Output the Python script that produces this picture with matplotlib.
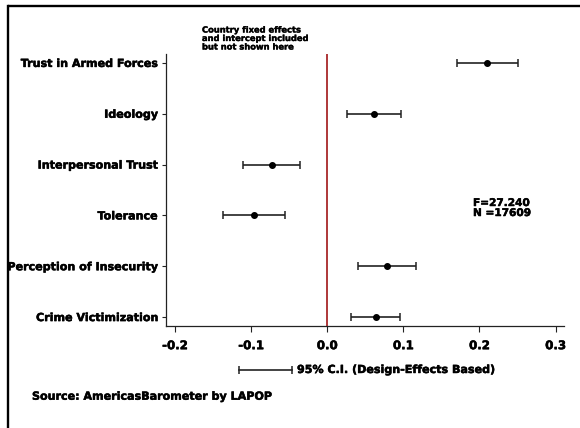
import matplotlib
matplotlib.use("Agg")
import matplotlib.pyplot as plt
from matplotlib.lines import Line2D
import matplotlib.patheffects as pe

labels = ["Crime Victimization", "Perception of Insecurity", "Tolerance",
          "Interpersonal Trust", "Ideology", "Trust in Armed Forces"]
coef = [0.064, 0.079, -0.096, -0.073, 0.061, 0.210]
ci_low = [0.031, 0.041, -0.137, -0.110, 0.026, 0.170]
ci_high = [0.096, 0.117, -0.055, -0.0355, 0.097, 0.250]
xticks = [-0.2, -0.1, 0.0, 0.1, 0.2, 0.3]
xticklabels = ["-0.2", "-0.1", "0.0", "0.1", "0.2", "0.3"]
note_lines = ["Country fixed effects", "and intercept included", "but not shown here"]
stats_lines = ["F=27.240", "N =17609"]
legend_text = "95% C.I. (Design-Effects Based)"
source_text = "Source: AmericasBarometer by LAPOP"

plt.rcParams['font.family'] = ['DejaVu Sans']
plt.rcParams['font.weight'] = 'bold'

heavy = [pe.withStroke(linewidth=0.35, foreground='black')]

W, H = 580, 428
fig = plt.figure(figsize=(W / 100, H / 100), dpi=100, facecolor='white')
ax = fig.add_axes([166 / W, 1 - 325.7 / H, (564 - 166) / W, (325.7 - 54.3) / H])

ypos = list(range(len(labels)))
xerr = [[c - l for c, l in zip(coef, ci_low)], [h - c for c, h in zip(coef, ci_high)]]
ax.axvline(0, color='#a8282a', lw=1.3, zorder=1)
ax.errorbar(coef, ypos, xerr=xerr, fmt='o', color='black', ecolor='#222222',
            elinewidth=1.2, capsize=3.2, capthick=1.1, markersize=4, zorder=3)

ax.set_xlim(-0.2118, 0.311)
ax.set_ylim(-0.17, 5.17)
ax.set_xticks(xticks)
ax.set_xticklabels(xticklabels, fontsize=8.5, fontweight='bold')
ax.set_yticks(ypos)
ax.set_yticklabels(labels, fontsize=8, fontweight='bold')
for lab in ax.get_xticklabels() + ax.get_yticklabels():
    lab.set_path_effects(heavy)
for s in ['top', 'right']:
    ax.spines[s].set_visible(False)
for s in ['left', 'bottom']:
    ax.spines[s].set_linewidth(0.9)
    ax.spines[s].set_color('#222222')
ax.tick_params(axis='x', length=4.2, width=0.8, pad=5.5, colors='#222222', labelcolor='black')
ax.tick_params(axis='y', length=3, width=0.8, pad=3, colors='#222222', labelcolor='black')

# note at top
for t, yy in zip(note_lines, [30, 38.5, 47]):
    fig.text(202 / W, 1 - yy / H, t, fontsize=6, fontweight='bold', ha='left', va='center',
             path_effects=[pe.withStroke(linewidth=0.25, foreground='black')])

# stats
for t, yy in zip(stats_lines, [203, 213]):
    fig.text(473 / W, 1 - yy / H, t, fontsize=7.6, fontweight='bold', ha='left', va='center',
             path_effects=heavy)

# legend
ly = 1 - 370 / H
fig.add_artist(Line2D([239.3 / W, 291.7 / W], [ly, ly], transform=fig.transFigure,
                      color='#222222', lw=1.2))
fig.add_artist(Line2D([239.3 / W, 291.7 / W], [ly, ly], transform=fig.transFigure,
                      color='#222222', lw=0, marker='|', markersize=6.4, markeredgewidth=1.1))
fig.text(297 / W, ly, legend_text, fontsize=8, fontweight='bold', ha='left', va='center',
         path_effects=heavy)

fig.text(32 / W, 1 - 396.7 / H, source_text, fontsize=8, fontweight='bold', ha='left', va='center',
         path_effects=heavy)

# border (top and left)
fig.add_artist(Line2D([7.5 / W, 1], [1 - 5.5 / H, 1 - 5.5 / H], transform=fig.transFigure,
                      color='black', lw=1.7, solid_capstyle='butt'))
fig.add_artist(Line2D([7.5 / W, 7.5 / W], [0, 1 - 5.5 / H], transform=fig.transFigure,
                      color='black', lw=1.7, solid_capstyle='projecting'))

fig.savefig("out.png", dpi=100, facecolor='white')
